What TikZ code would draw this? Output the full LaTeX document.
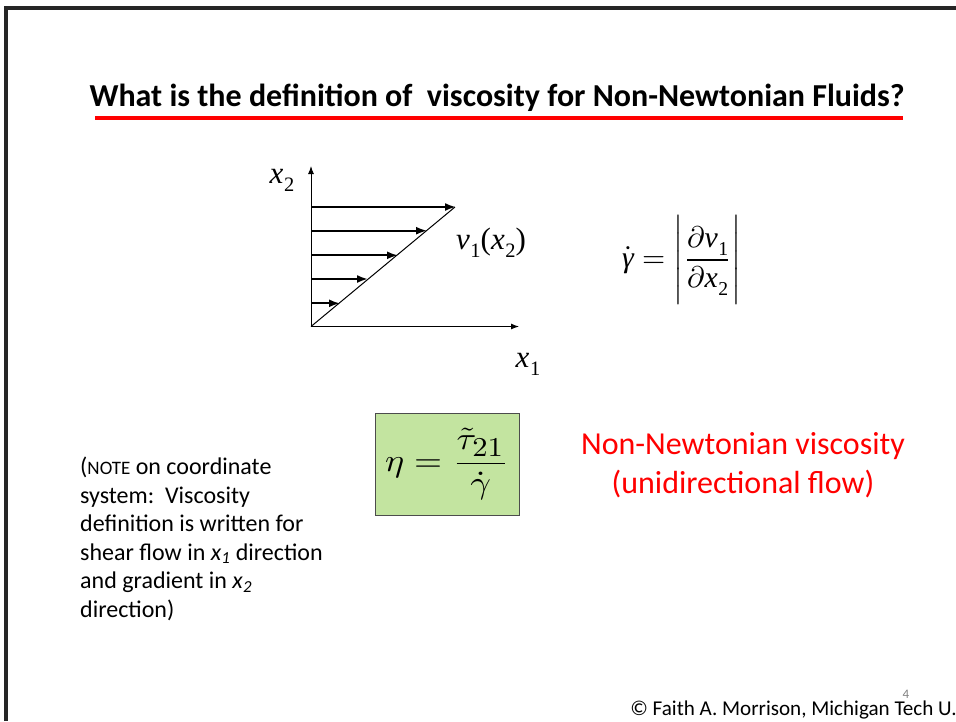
\documentclass[tikz,border=0pt]{standalone}
\usepackage{fontspec}
\setmainfont{Carlito}
\newfontfamily\tms{Liberation Serif}
\usepackage{graphicx}
\usepackage{amsmath}
\usetikzlibrary{arrows.meta}
\definecolor{boxgreen}{RGB}{195,228,160}
\newcommand\tv[2]{\hbox{\tms\itshape #1\kern0.02em\raisebox{-0.26em}{\upshape\scalebox{0.66}{#2}}}}
\tikzset{
  axisline/.style={line width=1pt,-{Latex[length=8pt,width=6pt]}},
  velarrow/.style={line width=2pt,-{Latex[length=11pt,width=8pt]}},
  tlabel/.style={font=\tms\fontsize{31}{34}\selectfont,inner sep=0pt},
  notetext/.style={font=\fontsize{24}{28.5}\selectfont,align=left,anchor=north west,inner sep=0pt},
}
\begin{document}
\begin{tikzpicture}[x=1pt,y=-1pt]
\useasboundingbox (0,0) rectangle (956,721);
\fill[white] (0,0) rectangle (956,721);
% frame
\coordinate (fbl) at (6,721);
\coordinate (ftl) at (6,8);
\coordinate (ftr) at (956,8);
\draw[line width=3.5pt,black!85] (fbl) -- (ftl) -- (ftr);
% title
\node[font=\bfseries\fontsize{32}{36}\selectfont,anchor=base,inner sep=0pt] (title) at (497,106) {What is the definition of\ \ viscosity for Non-Newtonian Fluids?};
\coordinate (ul) at (95,118);
\coordinate (ur) at (903,118);
\draw[red,line width=4pt] (ul) -- (ur);
% axes
\coordinate (O) at (311,326.5);
\coordinate (ytip) at (311,166);
\coordinate (xtip) at (519,326.5);
\coordinate (dtop) at (455,207);
\draw[axisline] (O) -- (ytip);
\draw[axisline] (O) -- (xtip);
\draw[line width=1pt] (O) -- (dtop);
\foreach \yy/\xx [count=\i] in {207/456,230.7/427,255.3/398,279/368,303.3/340}{
  \coordinate (s\i) at (311,\yy);
  \coordinate (e\i) at (\xx,\yy);
  \draw[velarrow] (s\i) -- (e\i);
}
\node[tlabel] (x2) at (282,180) {\tv{x}{2}};
\node[tlabel] (x1) at (528,364) {\tv{x}{1}};
\node[tlabel] (v1) at (491,243) {\tv{v}{1}\hbox{\tms(}\tv{x}{2}\hbox{\tms)}};
% gamma dot
\node[inner sep=0pt] (gd) at (682,260)
  {\scalebox{2.98}{\fontsize{10}{12}\selectfont$\dot{\hbox{\tms\itshape γ}}=\Bigg|\dfrac{\partial\tv{v}{1}}{\partial\tv{x}{2}}\Bigg|$}};
% eta box
\node[draw=black!70,line width=0.8pt,fill=boxgreen,minimum width=144pt,minimum height=102pt,inner sep=0pt] (eta) at (447,464)
  {\scalebox{3.6}[3.2]{\fontsize{10}{12}\selectfont$\eta=\dfrac{\tilde{\tau}_{\scalebox{0.85}{$\textstyle 21$}}}{\dot{\gamma}}$}};
% note
\node[notetext] (note) at (80,457) {({\fontsize{19}{20}\selectfont NOTE} on coordinate\\
system:\ \ Viscosity\\
definition is written for\\
shear flow in \textit{x}\textsubscript{\textit{1}} direction\\
and gradient in \textit{x}\textsubscript{\textit{2}}\\
direction)};
% red label
\node[text=red,font=\fontsize{32}{39}\selectfont,align=center,inner sep=0pt] (nn) at (743,465) {Non-Newtonian viscosity\\(unidirectional flow)};
% footer
\node[font=\fontsize{21.1}{24}\selectfont,anchor=base east,inner sep=0pt] (copy) at (957,715) {© Faith A. Morrison, Michigan Tech U.};
\node[font=\fontsize{13}{14}\selectfont,text=black!50,anchor=base,inner sep=0pt] (pg) at (906,698) {4};
\end{tikzpicture}
\end{document}
